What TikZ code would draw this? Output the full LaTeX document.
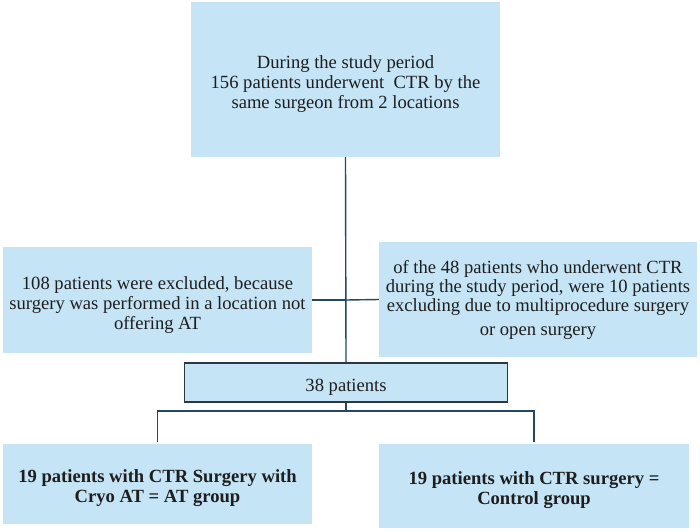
\documentclass[tikz,border=0pt]{standalone}
\usepackage{fontspec}
\setmainfont{Liberation Serif}
\definecolor{boxfill}{RGB}{197,228,245}
\definecolor{conn}{RGB}{35,72,102}
\definecolor{darkedge}{RGB}{45,55,68}
\definecolor{txt}{RGB}{30,30,30}
\newcommand\myfix{\rule{0pt}{22pt}}
\begin{document}
\begin{tikzpicture}[x=1pt,y=-1pt,
  boxstyle/.style={fill=boxfill,draw=none,align=center,inner sep=0pt,text=txt,
    font=\fontsize{18.6}{20}\selectfont},
  connector/.style={draw=conn,line width=1.4pt}]
\useasboundingbox (0,0) rectangle (700,531);
\node[boxstyle,minimum width=309,minimum height=155] (top) at (345.5,79.5)
  {\myfix During the study period\\156 patients underwent\ \ CTR by the\\same surgeon from 2 locations};
\node[boxstyle,minimum width=309,minimum height=106] (lm) at (157.5,300)
  {\myfix 108 patients were excluded, because\\surgery was performed in a location not\\offering AT};
\node[boxstyle,minimum width=318,minimum height=115,font=\fontsize{18.6}{19.3}\selectfont] (rm) at (538,299.5)
  {of the 48 patients who underwent CTR\\during the study period, were 10 patients\\excluding due to multiprocedure surgery\\[4pt]or open surgery};
\node[boxstyle,draw=darkedge,line width=1.8pt,minimum width=323,minimum height=39.6] (mid) at (346,382.5) {\myfix 38 patients};
\node[boxstyle,minimum width=309,minimum height=80,font=\bfseries\fontsize{18.6}{20}\selectfont] (bl) at (157.5,484)
  {\myfix 19 patients with CTR Surgery with\\Cryo AT = AT group};
\node[boxstyle,minimum width=310,minimum height=84,font=\bfseries\fontsize{18.6}{20}\selectfont] (br) at (534,486)
  {\myfix 19 patients with CTR surgery =\\Control group};
\coordinate (j) at (top.south |- lm.east);
\draw[connector] (top.south) -- (mid.north);
\draw[connector] (lm.east) -- (j);
\draw[connector] (rm.west) -- (j);
\coordinate (h) at (346,411);
\draw[connector] (mid.south) -- (h);
\draw[connector,shorten <=2pt] (bl.north) |- (h);
\draw[connector,shorten <=2pt] (br.north) |- (h);
\end{tikzpicture}
\end{document}
